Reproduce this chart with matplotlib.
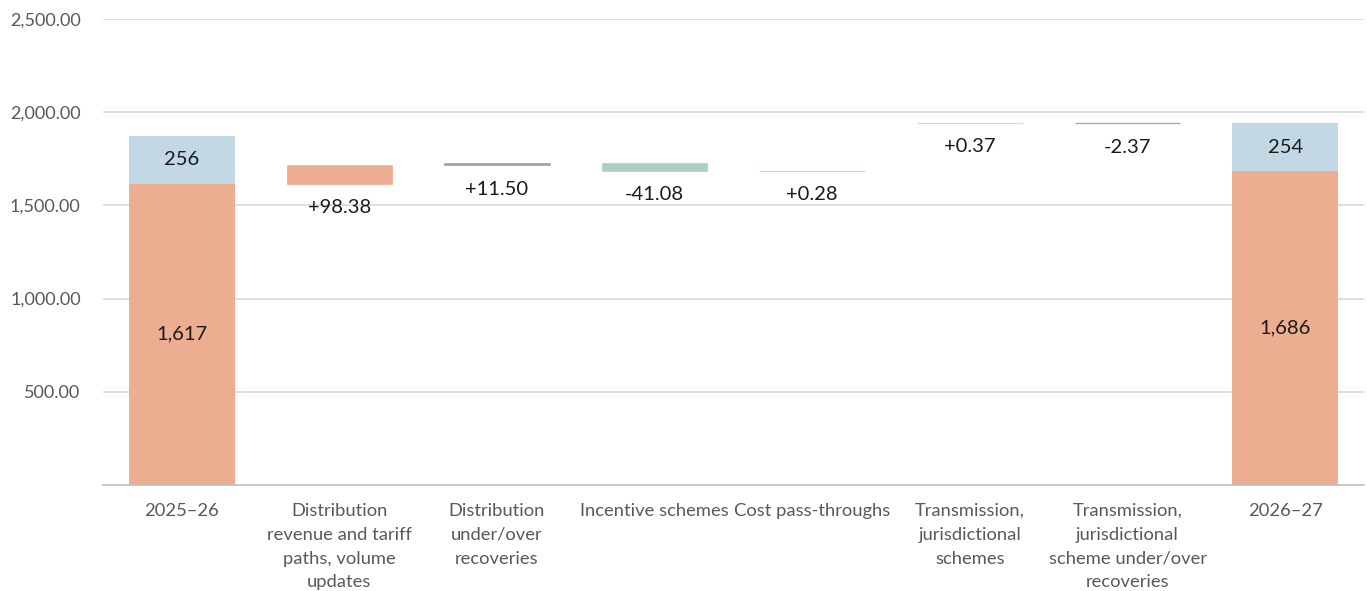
import matplotlib.pyplot as plt
import numpy as np

plt.rcParams['font.family'] = ['Lato', 'DejaVu Sans']

categories = ['2025\u201326',
              'Distribution\nrevenue and tariff\npaths, volume\nupdates',
              'Distribution\nunder/over\nrecoveries',
              'Incentive schemes',
              'Cost pass-throughs',
              'Transmission,\njurisdictional\nschemes',
              'Transmission,\njurisdictional\nscheme under/over\nrecoveries',
              '2026\u201327']

# opening / closing totals split in two parts
dist_start, trans_start = 1617, 256
dist_end, trans_end = 1686, 254

# changes between the two years
dist_deltas = [98.38, 11.50, -41.08, 0.28]
trans_deltas = [0.37, -2.37]
delta_labels = ['+98.38', '+11.50', '-41.08', '+0.28', '+0.37', '-2.37']

orange = '#EDAD90'
blue = '#C3D8E5'
delta_colors = [orange, '#A0A0A0', '#ADCEC0', '#F4C5D0', '#C8DCEA', '#A6A6A6']

fig = plt.figure(figsize=(13.67, 5.91), dpi=100)
ax = fig.add_axes([0.0753, 0.1794, 0.9225, 0.7885])

x = np.arange(len(categories))
w = 0.67

# total bars
for xi, d, t in [(x[0], dist_start, trans_start), (x[-1], dist_end, trans_end)]:
    ax.bar(xi, d, width=w, color=orange, zorder=2)
    ax.bar(xi, t, bottom=d, width=w, color=blue, zorder=2)
    ax.text(xi, d / 2, f'{d:,}', ha='center', va='center', fontsize=14.5, color='#1a1a1a', zorder=3)
    ax.text(xi, d + t / 2, f'{t:,}', ha='center', va='center', fontsize=14.5, color='#1a1a1a', zorder=3)

# floating change bars
level = dist_start
bottoms, heights = [], []
for dv in dist_deltas:
    bottoms.append(min(level, level + dv))
    heights.append(abs(dv))
    level += dv
level = level + trans_start
for dv in trans_deltas:
    bottoms.append(min(level, level + dv))
    heights.append(abs(dv))
    level += dv

for i, (b, h) in enumerate(zip(bottoms, heights)):
    xi = x[i + 1]
    ax.bar(xi, h, bottom=b, width=w, color=delta_colors[i],
           edgecolor=delta_colors[i], linewidth=0.9 if h < 5 else 0.5, zorder=2)
    ax.annotate(delta_labels[i], (xi, b), xytext=(0, -11), textcoords='offset points',
                ha='center', va='top', fontsize=14.5, color='#1a1a1a')

ax.set_xlim(-0.5, len(categories) - 0.5)
ax.set_ylim(0, 2500)
ax.set_yticks([500, 1000, 1500, 2000, 2500])
ax.set_yticklabels(['500.00', '1,000.00', '1,500.00', '2,000.00', '2,500.00'])
ax.yaxis.grid(True, color='#D9D9D9', linewidth=1.2, zorder=0)
ax.set_axisbelow(True)
ax.set_xticks(x)
ax.set_xticklabels(categories, fontsize=13.2, color='#595959', linespacing=1.6)
ax.tick_params(axis='x', length=0, pad=13)
ax.tick_params(axis='y', length=0, pad=16, labelsize=13, labelcolor='#595959')
for s in ['top', 'right', 'left']:
    ax.spines[s].set_visible(False)
ax.spines['bottom'].set_color('#BFBFBF')
ax.spines['bottom'].set_linewidth(1.2)

fig.savefig('out.png', dpi=100)
